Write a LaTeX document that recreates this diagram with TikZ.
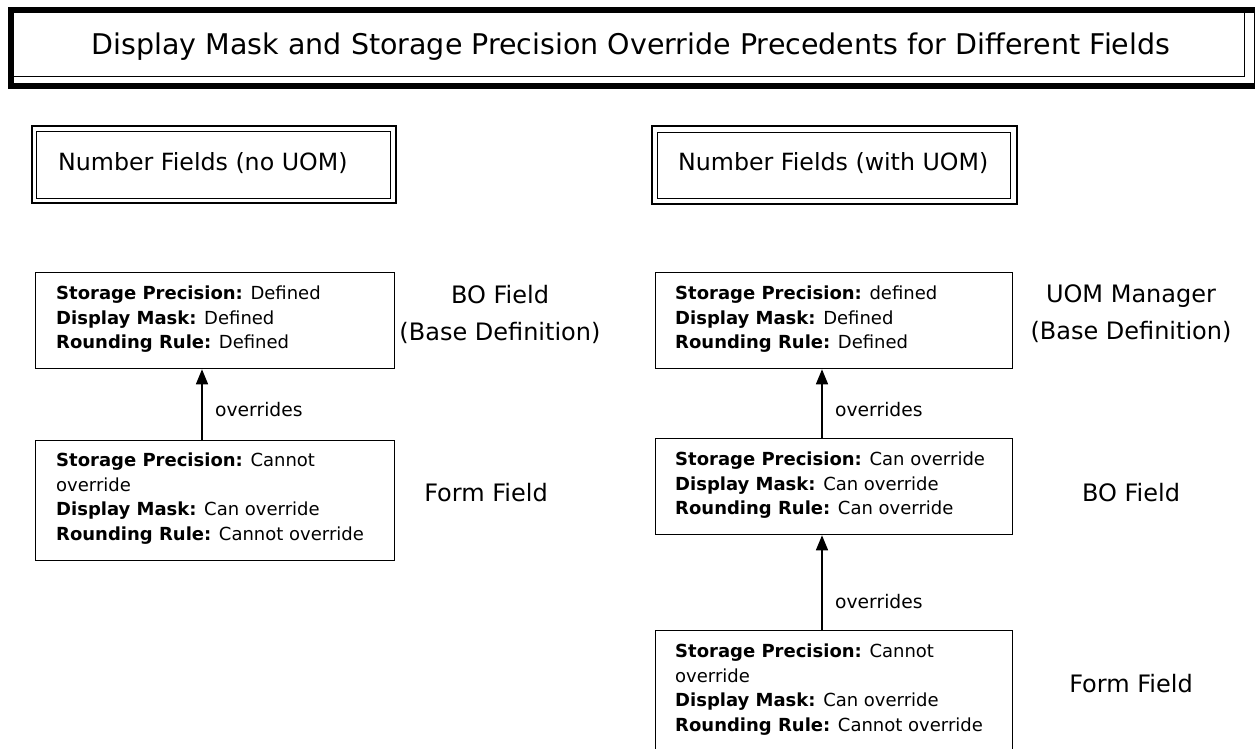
\documentclass[tikz,border=0pt]{standalone}
\usepackage{fontspec}
\setmainfont{DejaVu Sans}
\usetikzlibrary{arrows.meta}
\tikzset{
  frame/.style={draw, inner sep=0pt, anchor=north west},
  thickframe/.style={frame, line width=6pt},
  thinframe/.style={frame, line width=1.2pt},
  headbox/.style={frame, line width=1.2pt},
  mainbox/.style={frame, line width=1.3pt},
  boxtext/.style={anchor=north west, inner sep=0pt, align=left, font=\fontsize{18}{24.5}\selectfont},
  sidelabel/.style={align=center, inner sep=0pt, font=\fontsize{24}{37}\selectfont},
  headlabel/.style={anchor=west, inner sep=0pt, font=\fontsize{23.7}{28}\selectfont},
  ovr/.style={anchor=west, inner sep=0pt, font=\fontsize{18.7}{22}\selectfont},
  link/.style={line width=1.5pt, -{Triangle[length=15pt,width=12pt]}}
}
\begin{document}
\begin{tikzpicture}[x=1pt,y=-1pt]
\useasboundingbox (0,0) rectangle (1255,749);
\clip (0,0) rectangle (1255,749);
% title
\node[thickframe, minimum width=1246pt, minimum height=76pt] (titleouter) at (8,7) {};
\node[thinframe, minimum width=1231pt, minimum height=64pt] (titleinner) at (13,12) {};
\node[inner sep=0pt, font=\fontsize{28.5}{34}\selectfont] (title) at (631,47) {Display Mask and Storage Precision Override Precedents for Different Fields};
% header boxes
\node[headbox, line width=1.8pt, minimum width=364pt, minimum height=77pt] (hlo) at (31,125) {};
\node[headbox, minimum width=354pt, minimum height=67pt] (hli) at (36,131) {};
\node[headlabel] (hltext) at (58,163) {Number Fields (no UOM)};
\node[headbox, line width=1.8pt, minimum width=365pt, minimum height=78pt] (hro) at (651,125) {};
\node[headbox, minimum width=353pt, minimum height=66pt] (hri) at (657,132) {};
\node[headlabel] (hrtext) at (678,163) {Number Fields (with UOM)};
% left column
\node[mainbox, minimum width=359pt, minimum height=96pt] (L1) at (35,272) {};
\node[boxtext] (L1t) at (56,286) {\textbf{Storage Precision:} Defined\\\textbf{Display Mask:} Defined\\\textbf{Rounding Rule:} Defined};
\node[mainbox, minimum width=359pt, minimum height=120pt] (L2) at (35,440) {};
\node[boxtext] (L2t) at (56,453) {\textbf{Storage Precision:} Cannot\\override\\\textbf{Display Mask:} Can override\\\textbf{Rounding Rule:} Cannot override};
\draw[link] ([xshift=167pt]L2.north west) -- ([xshift=167pt]L1.south west);
\node[ovr] (Lov) at (215,410) {overrides};
\node[sidelabel] (Llab1) at (500,314) {BO Field\\(Base Definition)};
\node[sidelabel] (Llab2) at (486,493) {Form Field};
% right column
\node[mainbox, minimum width=357pt, minimum height=96pt] (R1) at (655,272) {};
\node[boxtext] (R1t) at (675,286) {\textbf{Storage Precision:} defined\\\textbf{Display Mask:} Defined\\\textbf{Rounding Rule:} Defined};
\node[mainbox, minimum width=357pt, minimum height=96pt] (R2) at (655,438) {};
\node[boxtext] (R2t) at (675,452) {\textbf{Storage Precision:} Can override\\\textbf{Display Mask:} Can override\\\textbf{Rounding Rule:} Can override};
\node[mainbox, minimum width=357pt, minimum height=150pt] (R3) at (655,630) {};
\node[boxtext] (R3t) at (675,644) {\textbf{Storage Precision:} Cannot\\override\\\textbf{Display Mask:} Can override\\\textbf{Rounding Rule:} Cannot override};
\draw[link] ([xshift=167pt]R2.north west) -- ([xshift=167pt]R1.south west);
\draw[link] ([xshift=167pt]R3.north west) -- ([xshift=167pt]R2.south west);
\node[ovr] (Rov1) at (835,410) {overrides};
\node[ovr] (Rov2) at (835,602) {overrides};
\node[sidelabel] (Rlab1) at (1131,314) {UOM Manager\\(Base Definition)};
\node[sidelabel] (Rlab2) at (1131,493) {BO Field};
\node[sidelabel] (Rlab3) at (1131,684) {Form Field};
\end{tikzpicture}
\end{document}
